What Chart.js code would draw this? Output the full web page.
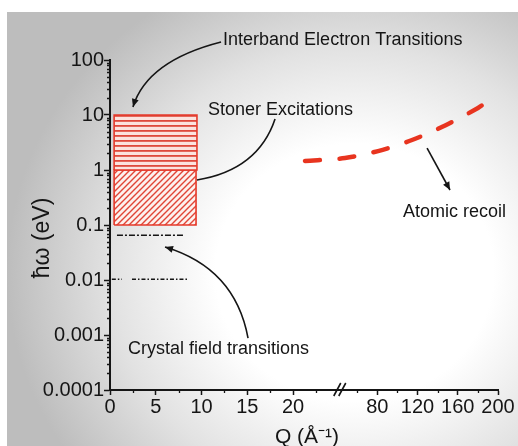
<!DOCTYPE html>
<html>
<head>
<meta charset="utf-8">
<title>Excitation energies vs Q</title>
<script src="https://cdn.jsdelivr.net/npm/chart.js@4.4.1/dist/chart.umd.min.js"></script>
<style>
    html, body { margin: 0; padding: 0; background: #fff; }
    #wrap { position: relative; width: 518px; height: 446px; overflow: hidden; }
    #bg {
        position: absolute; left: 7px; top: 12px; right: 0; bottom: 0;
        background: radial-gradient(ellipse 68% 74% at 68% 60%, #ffffff 0%, #ffffff 40%, #e2e2e2 70%, #bdbdbd 100%);
    }
    #myChart { position: absolute; left: 0; top: 0; }
</style>
</head>
<body>
<div id="wrap">
    <div id="bg"></div>
    <canvas id="myChart" width="518" height="446"></canvas>
</div>
<script>
// Datos (Q en Å^-1, energía en eV)
const interbandQ = [0.45, 9.5];
const interbandE = [1, 10];
const stonerQ = [0.45, 9.4];
const stonerE = [0.1, 1];
const crystal1Q = [0.76, 8.1];
const crystal1E = [0.065, 0.065];
const crystal2Q = [0.2, 1.3, 1.85, 2.4, 8.5];
const crystal2E = [0.0103, 0.0103, null, 0.0103, 0.0103];
const recoilQ = [21.3, 47.9, 80.8, 114.5, 147.4, 180.1, 188];
const recoilE = [1.46, 1.65, 2.21, 3.51, 6.45, 13.4, 17];

// Etiquetas de los ejes
const xTicksLeft = [0, 5, 10, 15, 20];
const xTicksRight = [80, 120, 160, 200];
const xMinorLeft = [2.5, 7.5, 12.5, 17.5, 22.5];
const xMinorRight = [60, 100, 140, 180];
const yTicks = [0.0001, 0.001, 0.01, 0.1, 1, 10, 100];
const yTickLabels = ['0.0001', '0.001', '0.01', '0.1', '1', '10', '100'];

// Eje X partido: 0-25 a escala normal, luego 60-200 comprimido
const BREAK_U = 25.1;
function qToU(q) {
    return q <= 25 ? q : 29.2 + (q - 80) / 9.1;
}

const RED = '#e5392a';
const INK = '#151515';
const FONT = 'Liberation Sans, Arial, sans-serif';

// Anotaciones (flechas curvas y textos) en coordenadas de datos
const arrows = [
    { pts: [[12.13, 212], [4.04, 96], [2.51, 14]], head: true },
    { pts: [[18.03, 8.46], [16.17, 1.0], [9.5, 0.658]], head: false },
    { pts: [[129.5, 2.51], [140.9, 1.05], [152.3, 0.433]], head: true },
    { pts: [[15.08, 0.00088], [13.66, 0.0165], [6.01, 0.0398]], head: true }
];
const notes = [
    { text: 'Interband Electron Transitions', q: 12.35, e: 187 },
    { text: 'Stoner Excitations', q: 10.7, e: 10 },
    { text: 'Atomic recoil', q: 105.6, e: 0.14 },
    { text: 'Crystal field transitions', q: 1.97, e: 0.00045 }
];

// Patrones de relleno para las cajas
function stripePattern() {
    const c = document.createElement('canvas');
    c.width = 8; c.height = 5;
    const g = c.getContext('2d');
    g.fillStyle = '#fbe3de';
    g.fillRect(0, 0, 8, 5);
    g.fillStyle = '#de4a3c';
    g.fillRect(0, 0, 8, 1.8);
    return g.createPattern(c, 'repeat');
}
function hatchPattern() {
    const c = document.createElement('canvas');
    c.width = 6; c.height = 6;
    const g = c.getContext('2d');
    g.fillStyle = '#fdf1ee';
    g.fillRect(0, 0, 6, 6);
    g.strokeStyle = '#e04536';
    g.lineWidth = 1.4;
    g.beginPath();
    g.moveTo(-1, 7); g.lineTo(7, -1);
    g.moveTo(-1, 1); g.lineTo(1, -1);
    g.moveTo(5, 7); g.lineTo(7, 5);
    g.stroke();
    return g.createPattern(c, 'repeat');
}

function toPoints(qs, es) {
    return qs.map((q, i) => ({ x: qToU(q), y: es[i] }));
}
function boxPoints(qs, es) {
    return toPoints([qs[0], qs[0], qs[1], qs[1], qs[0]], [es[0], es[1], es[1], es[0], es[0]]);
}

// Marcas menores, corte del eje, títulos y anotaciones
const decorations = {
    id: 'decorations',
    afterDraw(chart) {
        const ctx = chart.ctx;
        const x = chart.scales.x;
        const y = chart.scales.y;
        const area = chart.chartArea;
        const px = q => x.getPixelForValue(qToU(q));
        const py = e => y.getPixelForValue(e);
        ctx.save();
        ctx.strokeStyle = INK;
        ctx.lineWidth = 1.3;

        // marcas menores eje Y
        ctx.beginPath();
        for (let d = 0.0001; d < 100; d *= 10) {
            for (let m = 2; m <= 9; m++) {
                const yy = Math.round(py(d * m)) + 0.5;
                ctx.moveTo(area.left - 3, yy);
                ctx.lineTo(area.left, yy);
            }
        }
        // marcas menores eje X
        xMinorLeft.concat(xMinorRight).forEach(q => {
            const xx = Math.round(px(q)) + 0.5;
            ctx.moveTo(xx, area.bottom);
            ctx.lineTo(xx, area.bottom + 3);
        });
        ctx.stroke();

        // corte del eje "//"
        const bx = x.getPixelForValue(BREAK_U);
        const by = area.bottom;
        ctx.lineWidth = 1.6;
        ctx.beginPath();
        ctx.moveTo(bx - 6, by + 6); ctx.lineTo(bx + 1, by - 7);
        ctx.moveTo(bx - 1, by + 6); ctx.lineTo(bx + 6, by - 7);
        ctx.stroke();

        // flechas
        ctx.lineWidth = 1.6;
        arrows.forEach(a => {
            const p = a.pts.map(([q, e]) => [px(q), py(e)]);
            ctx.beginPath();
            ctx.moveTo(p[0][0], p[0][1]);
            ctx.quadraticCurveTo(p[1][0], p[1][1], p[2][0], p[2][1]);
            ctx.stroke();
            if (a.head) {
                const ang = Math.atan2(p[2][1] - p[1][1], p[2][0] - p[1][0]);
                const L = 8, W = 3.5;
                ctx.fillStyle = INK;
                ctx.beginPath();
                ctx.moveTo(p[2][0], p[2][1]);
                ctx.lineTo(p[2][0] - L * Math.cos(ang) + W * Math.sin(ang), p[2][1] - L * Math.sin(ang) - W * Math.cos(ang));
                ctx.lineTo(p[2][0] - L * Math.cos(ang) - W * Math.sin(ang), p[2][1] - L * Math.sin(ang) + W * Math.cos(ang));
                ctx.closePath();
                ctx.fill();
            }
        });

        // textos
        ctx.fillStyle = INK;
        ctx.font = '18px ' + FONT;
        ctx.textAlign = 'left';
        ctx.textBaseline = 'alphabetic';
        notes.forEach(n => ctx.fillText(n.text, px(n.q), py(n.e)));

        // títulos de los ejes
        ctx.font = '21px ' + FONT;
        ctx.textAlign = 'center';
        ctx.fillText('Q (Å⁻¹)', (area.left + area.right) / 2 + 3, 443);
        ctx.save();
        ctx.translate(49, 238);
        ctx.rotate(-Math.PI / 2);
        ctx.font = '23px ' + FONT;
        ctx.fillText('ħω (eV)', 0, 0);
        ctx.restore();

        ctx.restore();
    }
};

let chart;
function initializeChart() {
    const ctx = document.getElementById('myChart').getContext('2d');
    chart = new Chart(ctx, {
        type: 'line',
        data: {
            datasets: [
                {
                    label: 'Interband',
                    data: boxPoints(interbandQ, interbandE),
                    fill: 'shape',
                    backgroundColor: stripePattern(),
                    borderColor: RED,
                    borderWidth: 1.6
                },
                {
                    label: 'Stoner',
                    data: boxPoints(stonerQ, stonerE),
                    fill: 'shape',
                    backgroundColor: hatchPattern(),
                    borderColor: RED,
                    borderWidth: 1.6
                },
                {
                    label: 'Crystal field 1',
                    data: toPoints(crystal1Q, crystal1E),
                    borderColor: INK,
                    borderWidth: 1.6,
                    borderDash: [6, 2, 2, 2]
                },
                {
                    label: 'Crystal field 2',
                    data: toPoints(crystal2Q, crystal2E),
                    borderColor: INK,
                    borderWidth: 1.6,
                    borderDash: [4, 2, 1.5, 2],
                    spanGaps: false
                },
                {
                    label: 'Atomic recoil',
                    data: toPoints(recoilQ, recoilE),
                    borderColor: '#e8341f',
                    borderWidth: 4.5,
                    borderDash: [15, 19.5],
                    borderCapStyle: 'round',
                    tension: 0.3
                }
            ]
        },
        options: {
            responsive: false,
            animation: false,
            events: [],
            layout: { padding: { left: 8, top: 60, right: 20, bottom: 0 } },
            elements: { point: { radius: 0 }, line: { fill: false } },
            plugins: { legend: { display: false }, tooltip: { enabled: false } },
            scales: {
                x: {
                    type: 'linear',
                    min: 0,
                    max: qToU(200),
                    afterFit: s => { s.height = 56; },
                    afterBuildTicks: s => {
                        s.ticks = xTicksLeft.concat(xTicksRight).map(q => ({ value: qToU(q) }));
                    },
                    ticks: {
                        autoSkip: false,
                        maxRotation: 0,
                        padding: 0,
                        color: INK,
                        font: { family: FONT, size: 20 },
                        callback: (v, i) => String(xTicksLeft.concat(xTicksRight)[i])
                    },
                    grid: { drawOnChartArea: false, tickLength: 5, tickColor: INK, tickWidth: 1.5 },
                    border: { color: INK, width: 2 }
                },
                y: {
                    type: 'logarithmic',
                    min: 0.0001,
                    max: 100,
                    afterFit: s => { s.width = 102; },
                    afterBuildTicks: s => {
                        s.ticks = yTicks.map(v => ({ value: v }));
                    },
                    ticks: {
                        autoSkip: false,
                        padding: 0,
                        color: INK,
                        font: { family: FONT, size: 20 },
                        callback: (v, i) => yTickLabels[i]
                    },
                    grid: { drawOnChartArea: false, tickLength: 6, tickColor: INK, tickWidth: 1.5 },
                    border: { color: INK, width: 2 }
                }
            }
        },
        plugins: [decorations]
    });
}

window.onload = function() {
    initializeChart();
};
</script>
</body>
</html>
